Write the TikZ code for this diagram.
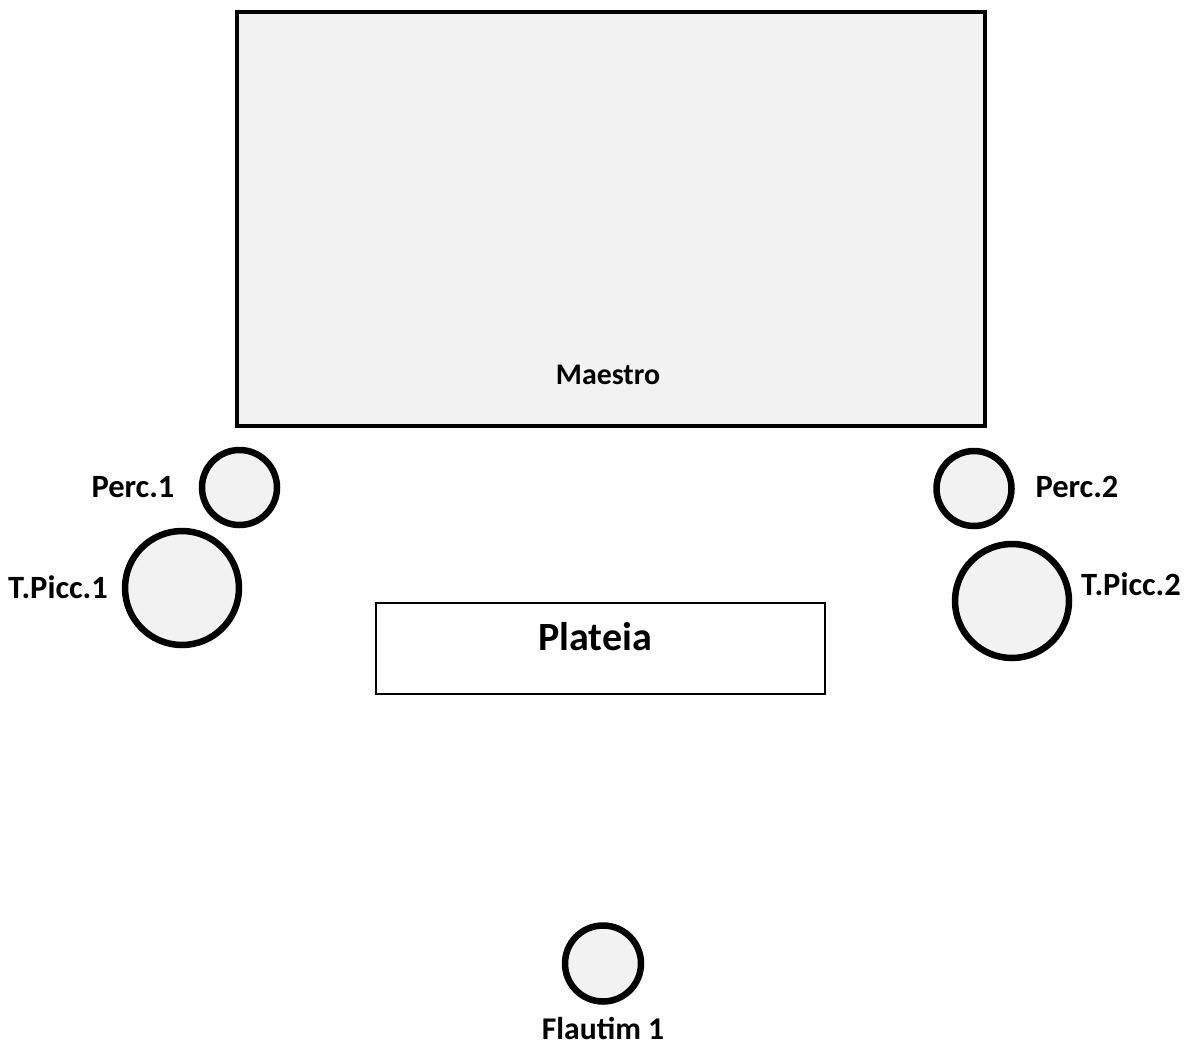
\documentclass[tikz,border=0pt]{standalone}
\usepackage{fontspec}
\setmainfont{Carlito}
\usetikzlibrary{positioning}
\definecolor{seatgray}{HTML}{F2F2F2}
\tikzset{
  seat/.style={circle,draw,fill=seatgray,line width=0.13cm,inner sep=0pt},
  lbl/.style={font=\fontsize{18.5}{22}\selectfont\bfseries,inner sep=0pt,anchor=base},
}
\begin{document}
\begin{tikzpicture}[x=0.02cm,y=-0.02cm]
  \useasboundingbox (0,0) rectangle (1192,1048);
  \node[draw,fill=seatgray,line width=0.09cm,inner sep=0pt,
        minimum width=14.96cm,minimum height=8.28cm] (palco) at (611,219) {};
  \node[lbl,font=\fontsize{17}{20}\selectfont\bfseries] (maestro) at (608,384) {Maestro};
  \node[seat,minimum size=1.5cm] (perc1) at (239.5,487.5) {};
  \node[lbl] (perc1lbl) at (133,497) {Perc.1};
  \node[seat,minimum size=2.28cm] (tpicc1) at (182,588) {};
  \node[lbl] (tpicc1lbl) at (58,598) {T.Picc.1};
  \node[seat,minimum size=1.5cm] (perc2) at (974,488.5) {};
  \node[lbl] (perc2lbl) at (1077,497) {Perc.2};
  \node[seat,minimum size=2.28cm] (tpicc2) at (1012,601) {};
  \node[lbl] (tpicc2lbl) at (1131,595) {T.Picc.2};
  \node[draw,line width=0.04cm,inner sep=0pt,
        minimum width=8.98cm,minimum height=1.82cm] (plateia) at (600.5,648.5) {};
  \node[lbl,font=\fontsize{22.8}{26}\selectfont\bfseries] (plateialbl) at (595,650) {Plateia};
  \node[seat,minimum size=1.52cm] (flautim) at (603,963.5) {};
  \node[lbl,font=\fontsize{18}{22}\selectfont\bfseries] (flautimlbl) at (603,1039) {Flautim 1};
\end{tikzpicture}
\end{document}
